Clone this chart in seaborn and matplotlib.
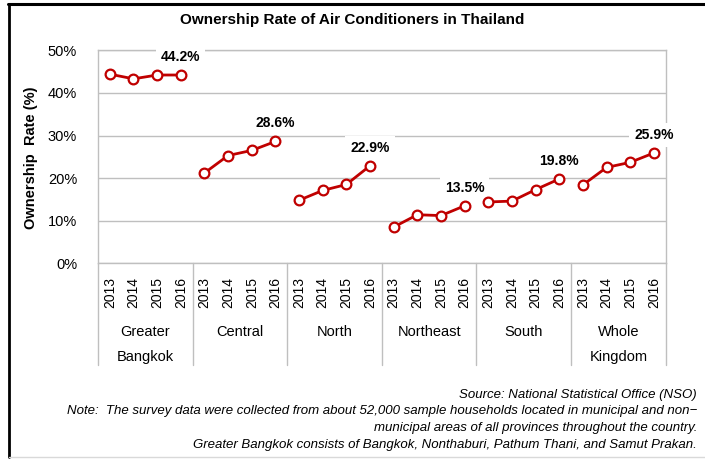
import matplotlib
matplotlib.use("Agg")
import matplotlib.pyplot as plt
import matplotlib.transforms as mtransforms
from matplotlib.lines import Line2D
import seaborn as sns
import pandas as pd

# ---- data ----
regions = ["Greater\nBangkok", "Central", "North", "Northeast", "South", "Whole\nKingdom"]
years = ["2013", "2014", "2015", "2016"]
greater_bangkok = [44.4, 43.3, 44.2, 44.2]
central = [21.2, 25.3, 26.5, 28.6]
north = [14.8, 17.1, 18.5, 22.9]
northeast = [8.5, 11.4, 11.2, 13.5]
south = [14.4, 14.6, 17.3, 19.8]
whole_kingdom = [18.4, 22.5, 23.7, 25.9]
series = [greater_bangkok, central, north, northeast, south, whole_kingdom]
y_ticks = [0, 10, 20, 30, 40, 50]
y_tick_labels = ["0%", "10%", "20%", "30%", "40%", "50%"]

rows = []
pos = 0
for g, (reg, vals) in enumerate(zip(regions, series)):
    for yr, v in zip(years, vals):
        rows.append({"pos": pos, "group": g, "region": reg, "year": yr, "value": v})
        pos += 1
df = pd.DataFrame(rows)

sns.set_style("white")
plt.rcParams["font.family"] = ["Liberation Sans", "DejaVu Sans"]
plt.rcParams["text.color"] = "black"
plt.rcParams["xtick.color"] = "black"
plt.rcParams["ytick.color"] = "black"
plt.rcParams["xtick.labelcolor"] = "black"
plt.rcParams["ytick.labelcolor"] = "black"

W, H = 705, 459
fig = plt.figure(figsize=(W / 100, H / 100), dpi=100)
ax = fig.add_axes([98 / W, 1 - 263.3 / H, (665.7 - 98) / W, (263.3 - 50.3) / H])

RED = "#C00000"
GRID = "#BFBFBF"

for g in range(len(regions)):
    sub = df[df["group"] == g]
    sns.lineplot(data=sub, x="pos", y="value", ax=ax, color=RED, linewidth=2,
                 marker="o", markersize=7, markerfacecolor="white",
                 markeredgecolor=RED, markeredgewidth=1.6, estimator=None,
                 legend=False, zorder=12)
    last = sub.iloc[-1]
    ax.annotate(f"{last['value']:.1f}%", (last["pos"], last["value"]),
                xytext=(0, 18), textcoords="offset pixels",
                ha="center", va="center", fontsize=10, fontweight="bold", color="black",
                bbox=dict(boxstyle="square,pad=0.35", fc="white", ec="none"),
                zorder=10, annotation_clip=False)

ax.set_xlim(-0.5, len(df) - 0.5)
ax.set_ylim(0, 50)
ax.set_yticks(y_ticks)
ax.set_yticklabels(y_tick_labels, fontsize=10.5)
ax.tick_params(axis="y", length=0, pad=15)
ax.set_xticks(df["pos"])
ax.set_xticklabels(df["year"], rotation=90, fontsize=10)
ax.tick_params(axis="x", length=0, pad=10)
ax.set_xlabel("")
ax.set_ylabel("")

ax.grid(axis="y", color=GRID, linewidth=1)
ax.set_axisbelow(True)
for s in ax.spines.values():
    s.set_color(GRID)
    s.set_linewidth(1)
    s.set_zorder(1)

# group separators and labels below axis
trans = mtransforms.blended_transform_factory(ax.transData, ax.transAxes)
sep_bottom = -(365 - 263.3) / (263.3 - 50.3)
for k in range(len(regions) + 1):
    xk = k * len(years) - 0.5
    ax.add_line(Line2D([xk, xk], [0, sep_bottom], transform=trans, color=GRID,
                       linewidth=1, clip_on=False))
for g, reg in enumerate(regions):
    xc = g * len(years) + (len(years) - 1) / 2
    lines = reg.split("\n")
    for i, ln in enumerate(lines):
        yy = -(331.5 - 263.3 + i * 25) / (263.3 - 50.3)
        ax.text(xc, yy, ln, transform=trans, ha="center", va="center", fontsize=10.5)

fig.text(31 / W, 1 - 158 / H, "Ownership  Rate (%)", rotation=90, ha="center", va="center",
         fontsize=10.5, fontweight="bold")

fig.text(352 / W, 1 - 20 / H, "Ownership Rate of Air Conditioners in Thailand",
         ha="center", va="center", fontsize=11, fontweight="bold")

note_kw = dict(fontsize=9.5, style="italic", va="center")
fig.text(697 / W, 1 - 395 / H, "Source: National Statistical Office (NSO)", ha="right", **note_kw)
fig.text(697 / W, 1 - 411 / H,
         "Note:  The survey data were collected from about 52,000 sample households located in municipal and non\u2212",
         ha="right", **note_kw)
fig.text(697 / W, 1 - 428 / H, "municipal areas of all provinces throughout the country.", ha="right", **note_kw)
fig.text(697 / W, 1 - 445 / H,
         "Greater Bangkok consists of Bangkok, Nonthaburi, Pathum Thani, and Samut Prakan.",
         ha="right", **note_kw)

# outer frame
fig.add_artist(Line2D([9 / W, 9 / W], [1 - 3.5 / H, 1 - 457 / H], transform=fig.transFigure,
                      color="black", linewidth=2))
fig.add_artist(Line2D([8 / W, 1], [1 - 3.8 / H, 1 - 3.8 / H], transform=fig.transFigure,
                      color="black", linewidth=2.2))
fig.add_artist(Line2D([9 / W, 1], [1 - 457 / H, 1 - 457 / H], transform=fig.transFigure,
                      color="#D9D9D9", linewidth=1))

fig.savefig("out.png", dpi=100)
